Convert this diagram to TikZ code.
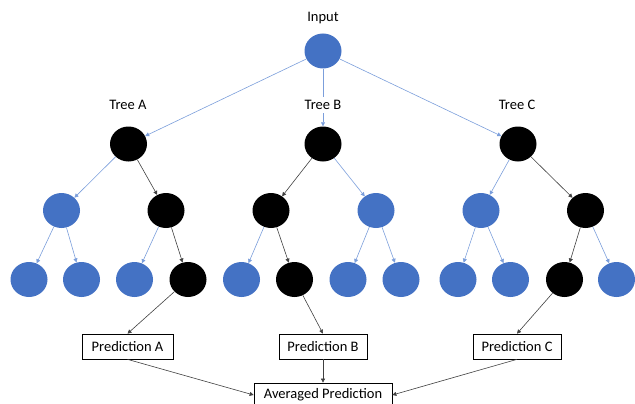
\documentclass[tikz,border=0pt]{standalone}
\usepackage{fontspec}
\setmainfont{Carlito}
\usetikzlibrary{arrows.meta,shapes.geometric}
\definecolor{nodeblue}{HTML}{4472C4}
\definecolor{edgeblue}{HTML}{7B9EDB}
\definecolor{edgedark}{HTML}{404040}
\begin{document}
\begin{tikzpicture}[x=1pt,y=-1pt,
  bn/.style={ellipse,fill=nodeblue,minimum width=37pt,minimum height=35pt,inner sep=0pt},
  kn/.style={ellipse,fill=black,minimum width=37pt,minimum height=35pt,inner sep=0pt},
  lbl/.style={font=\fontsize{14.5}{17}\selectfont,inner sep=3pt},
  pbox/.style={draw=black,line width=0.7pt,minimum width=91pt,minimum height=25pt,inner sep=0pt,font=\fontsize{14.5}{17}\selectfont},
  be/.style={draw=edgeblue,line width=0.6pt,-{Triangle[length=4pt,width=4pt]}},
  ke/.style={draw=edgedark,line width=0.6pt,-{Triangle[length=4pt,width=4pt]}}
]
\useasboundingbox (0,0) rectangle (635,404);
% input
\node[bn] (in) at (323,51) {};
\node[lbl] (inl) at (323,18) {Input};
% tree A
\node[kn] (ra) at (128.5,144) {};
\node[bn] (a1) at (61.5,210.5) {};
\node[kn] (a2) at (166,210.5) {};
\node[bn] (a11) at (29,279.5) {};
\node[bn] (a12) at (81.5,279.5) {};
\node[bn] (a21) at (134.5,279.5) {};
\node[kn] (a22) at (188,279.5) {};
% tree B
\node[kn] (rb) at (323,144) {};
\node[kn] (b1) at (271,210.5) {};
\node[bn] (b2) at (376,210.5) {};
\node[bn] (b11) at (241.5,279.5) {};
\node[kn] (b12) at (294.5,279.5) {};
\node[bn] (b21) at (348,279.5) {};
\node[bn] (b22) at (401,279.5) {};
% tree C
\node[kn] (rc) at (518,144) {};
\node[bn] (c1) at (481,210.5) {};
\node[kn] (c2) at (585.5,210.5) {};
\node[bn] (c11) at (458,279.5) {};
\node[bn] (c12) at (510.5,279.5) {};
\node[kn] (c21) at (564.5,279.5) {};
\node[bn] (c22) at (616.5,279.5) {};
% predictions
\node[pbox] (pa) at (127.5,346.5) {Prediction A};
\node[pbox,minimum width=88pt] (pb) at (323,346.5) {Prediction B};
\node[pbox,minimum width=88pt] (pc) at (517,346.5) {Prediction C};
\node[pbox,minimum width=138pt,minimum height=24pt] (av) at (323,395) {Averaged Prediction};
% edges from input
\draw[be] (in) -- (ra);
\draw[be] (in) -- (rb);
\draw[be] (in) -- (rc);
% tree labels
\node[lbl] (tla) at (128,105) {Tree A};
\node[lbl,fill=white] (tlb) at (323,105) {Tree B};
\node[lbl] (tlc) at (517,105) {Tree C};
% tree A edges
\draw[be] (ra) -- (a1);
\draw[ke] (ra) -- (a2);
\draw[be] (a1) -- (a11);
\draw[be] (a1) -- (a12);
\draw[be] (a2) -- (a21);
\draw[ke] (a2) -- (a22);
% tree B edges
\draw[ke] (rb) -- (b1);
\draw[be] (rb) -- (b2);
\draw[be] (b1) -- (b11);
\draw[ke] (b1) -- (b12);
\draw[be] (b2) -- (b21);
\draw[be] (b2) -- (b22);
% tree C edges
\draw[be] (rc) -- (c1);
\draw[ke] (rc) -- (c2);
\draw[be] (c1) -- (c11);
\draw[be] (c1) -- (c12);
\draw[ke] (c2) -- (c21);
\draw[be] (c2) -- (c22);
% to predictions
\draw[ke] (a22) -- (pa.north);
\draw[ke] (b12) -- (pb.north);
\draw[ke] (c21) -- (pc.north);
\draw[ke] (pa.south) -- (av.west);
\draw[ke] (pb.south) -- (av.north);
\draw[ke] (pc.south) -- (av.east);
\end{tikzpicture}
\end{document}
